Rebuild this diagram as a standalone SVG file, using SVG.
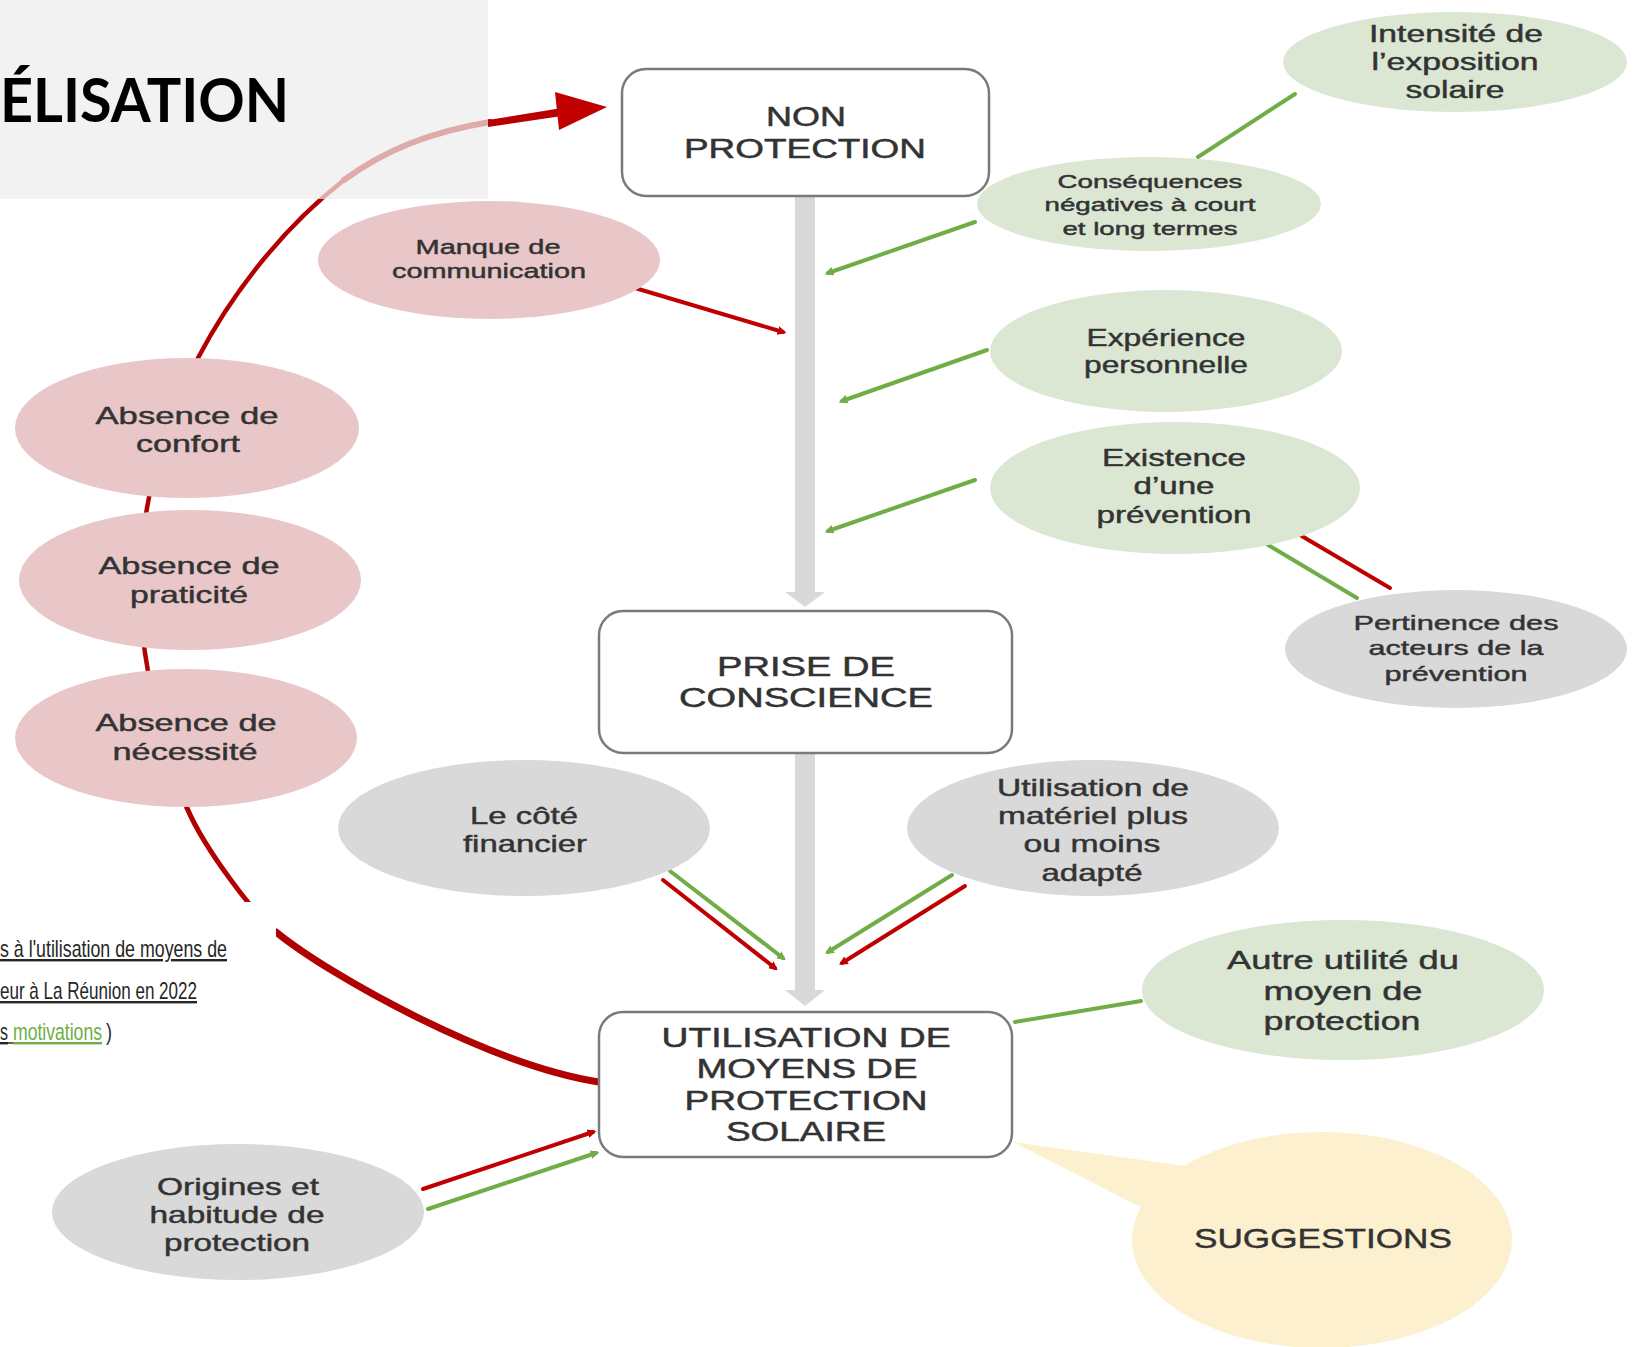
<svg xmlns="http://www.w3.org/2000/svg" width="1638" height="1347" viewBox="0 0 1638 1347">
<defs>
<style>
.t{font-family:"Liberation Sans",Arial,sans-serif;fill:#333;stroke:#333;stroke-width:0.45;text-anchor:middle}
.bt{font-family:"Liberation Sans",Arial,sans-serif;fill:#333;stroke:#333;stroke-width:0.5;text-anchor:middle;font-size:27px}
.box{fill:#fff;stroke:#7a7a7a;stroke-width:2.5}
.pk{fill:#e9c7c9}
.gn{fill:#dbe7d3}
.gy{fill:#d9d9d9}
.yl{fill:#fcf0cf}
.lg{stroke:#70ad47;stroke-width:4;stroke-linecap:round;fill:none}
.lr{stroke:#c00000;stroke-width:4;stroke-linecap:round;fill:none}
.arc{stroke:#b00000;fill:none;stroke-linecap:round}
.bar{fill:#d9d9d9}
.cap{font-family:"Liberation Sans Narrow","Liberation Sans",Arial,sans-serif;font-size:24px;fill:#262626}
</style>
<marker id="ag" viewBox="0 0 10 10" refX="6" refY="5" markerWidth="2.2" markerHeight="2.2" orient="auto"><path d="M0,0 L10,5 L0,10 z" fill="#70ad47"/></marker>
<marker id="ar" viewBox="0 0 10 10" refX="6" refY="5" markerWidth="2.2" markerHeight="2.2" orient="auto"><path d="M0,0 L10,5 L0,10 z" fill="#c00000"/></marker>
</defs>
<rect x="0" y="0" width="1638" height="1347" fill="#fff"/>
<rect x="0" y="0" width="488" height="199" fill="#f2f2f2"/>

<g id="connectors">
  <path class="arc" stroke-width="7" d="M599,1082 C490,1065 330,976 276,932"/>
  <path class="arc" stroke-width="5" d="M276,932 C255,915 205,850 187,808"/>
  <path class="arc" stroke-width="4.5" d="M187,808 C177,785 140,680 140,590 C140,510 160,430 198,358 C230,297 280,230 344,180"/>
  <path class="arc" stroke-width="6" d="M344,180 C385,150 430,132 490,122"/>
  <path d="M488,120 L562,108 L562,116 L488,127 z" fill="#b80000"/>
  <polygon points="555,92 607,107 559,130" fill="#c00000"/>
  <rect class="bar" x="795" y="196" width="20" height="397"/>
  <polygon class="bar" points="785,592 825,592 805,607"/>
  <rect class="bar" x="795" y="753" width="20" height="238"/>
  <polygon class="bar" points="785,990 825,990 805,1006"/>
  <line class="lg" x1="1295" y1="94" x2="1198" y2="157"/>
  <line class="lg" x1="975" y1="222" x2="828" y2="273" marker-end="url(#ag)"/>
  <line class="lr" x1="635" y1="288" x2="783" y2="332" marker-end="url(#ar)"/>
  <line class="lg" x1="987" y1="350" x2="842" y2="401" marker-end="url(#ag)"/>
  <line class="lg" x1="975" y1="480" x2="828" y2="531" marker-end="url(#ag)"/>
  <line class="lg" x1="1268" y1="545" x2="1357" y2="598"/>
  <line class="lr" x1="1300" y1="535" x2="1390" y2="588"/>
  <line class="lg" x1="670" y1="871" x2="783" y2="958" marker-end="url(#ag)"/>
  <line class="lr" x1="663" y1="880" x2="775" y2="968" marker-end="url(#ar)"/>
  <line class="lg" x1="952" y1="875" x2="828" y2="952" marker-end="url(#ag)"/>
  <line class="lr" x1="965" y1="886" x2="842" y2="963" marker-end="url(#ar)"/>
  <line class="lg" x1="1141" y1="1001" x2="1015" y2="1022"/>
  <line class="lr" x1="423" y1="1189" x2="593" y2="1132" marker-end="url(#ar)"/>
  <line class="lg" x1="428" y1="1209" x2="596" y2="1153" marker-end="url(#ag)"/>
</g>

<g id="title">
  <rect x="0" y="0" width="488" height="199" fill="#f2f2f2" fill-opacity="0.7"/>
  <text x="0" y="122" font-family="Lato,'Open Sans','Liberation Sans',sans-serif" font-weight="700" font-size="61" fill="#000" textLength="289" lengthAdjust="spacingAndGlyphs">ÉLISATION</text>
</g>

<g id="caption">
  <rect x="0" y="902" width="276" height="150" fill="#fff"/>
  <text class="cap" x="0" y="957" textLength="227" lengthAdjust="spacingAndGlyphs" text-decoration="underline">s à l'utilisation de moyens de</text>
  <text class="cap" x="0" y="999" textLength="197" lengthAdjust="spacingAndGlyphs" text-decoration="underline">eur à La Réunion en 2022</text>
  <text class="cap" x="0" y="1040" textLength="8" lengthAdjust="spacingAndGlyphs" text-decoration="underline">s</text>
  <line x1="8" y1="1043" x2="13" y2="1043" stroke="#262626" stroke-width="1.5"/>
  <text class="cap" x="13" y="1040" textLength="89" lengthAdjust="spacingAndGlyphs" style="fill:#70ad47" text-decoration="underline">motivations</text>
  <text class="cap" x="106" y="1040" textLength="6" lengthAdjust="spacingAndGlyphs">)</text>
</g>

<g id="n_intensite">
  <ellipse class="gn" cx="1455" cy="62" rx="172" ry="50"/>
  <text class="t" font-size="23" x="1456" y="42" textLength="174" lengthAdjust="spacingAndGlyphs">Intensité de</text>
  <text class="t" font-size="23" x="1455" y="70" textLength="167" lengthAdjust="spacingAndGlyphs">l’exposition</text>
  <text class="t" font-size="23" x="1455" y="98" textLength="99" lengthAdjust="spacingAndGlyphs">solaire</text>
</g>
<g id="n_consequences">
  <ellipse class="gn" cx="1149" cy="204" rx="172" ry="47"/>
  <text class="t" font-size="19" x="1150" y="188" textLength="185" lengthAdjust="spacingAndGlyphs">Conséquences</text>
  <text class="t" font-size="19" x="1150" y="211" textLength="211" lengthAdjust="spacingAndGlyphs">négatives à court</text>
  <text class="t" font-size="19" x="1150" y="235" textLength="175" lengthAdjust="spacingAndGlyphs">et long termes</text>
</g>
<g id="n_experience">
  <ellipse class="gn" cx="1166" cy="351" rx="176" ry="61"/>
  <text class="t" font-size="24" x="1166" y="346" textLength="159" lengthAdjust="spacingAndGlyphs">Expérience</text>
  <text class="t" font-size="24" x="1166" y="373" textLength="164" lengthAdjust="spacingAndGlyphs">personnelle</text>
</g>
<g id="n_existence">
  <ellipse class="gn" cx="1175" cy="488" rx="185" ry="66"/>
  <text class="t" font-size="24" x="1174" y="466" textLength="144" lengthAdjust="spacingAndGlyphs">Existence</text>
  <text class="t" font-size="24" x="1174" y="494" textLength="81" lengthAdjust="spacingAndGlyphs">d’une</text>
  <text class="t" font-size="24" x="1174" y="523" textLength="155" lengthAdjust="spacingAndGlyphs">prévention</text>
</g>
<g id="n_pertinence">
  <ellipse class="gy" cx="1456" cy="649" rx="171" ry="59"/>
  <text class="t" font-size="21" x="1456" y="630" textLength="205" lengthAdjust="spacingAndGlyphs">Pertinence des</text>
  <text class="t" font-size="21" x="1456" y="655" textLength="175" lengthAdjust="spacingAndGlyphs">acteurs de la</text>
  <text class="t" font-size="21" x="1456" y="681" textLength="143" lengthAdjust="spacingAndGlyphs">prévention</text>
</g>
<g id="n_manque">
  <ellipse class="pk" cx="489" cy="260" rx="171" ry="59"/>
  <text class="t" font-size="20" x="488" y="254" textLength="145" lengthAdjust="spacingAndGlyphs">Manque de</text>
  <text class="t" font-size="20" x="489" y="278" textLength="194" lengthAdjust="spacingAndGlyphs">communication</text>
</g>
<g id="n_confort">
  <ellipse class="pk" cx="187" cy="428" rx="172" ry="70"/>
  <text class="t" font-size="24" x="187" y="424" textLength="183" lengthAdjust="spacingAndGlyphs">Absence de</text>
  <text class="t" font-size="24" x="188" y="452" textLength="104" lengthAdjust="spacingAndGlyphs">confort</text>
</g>
<g id="n_praticite">
  <ellipse class="pk" cx="190" cy="580" rx="171" ry="70"/>
  <text class="t" font-size="24" x="189" y="574" textLength="181" lengthAdjust="spacingAndGlyphs">Absence de</text>
  <text class="t" font-size="24" x="189" y="603" textLength="118" lengthAdjust="spacingAndGlyphs">praticité</text>
</g>
<g id="n_necessite">
  <ellipse class="pk" cx="186" cy="738" rx="171" ry="69"/>
  <text class="t" font-size="24" x="186" y="731" textLength="181" lengthAdjust="spacingAndGlyphs">Absence de</text>
  <text class="t" font-size="24" x="185" y="760" textLength="145" lengthAdjust="spacingAndGlyphs">nécessité</text>
</g>
<g id="n_financier">
  <ellipse class="gy" cx="524" cy="828" rx="186" ry="68"/>
  <text class="t" font-size="24" x="524" y="824" textLength="108" lengthAdjust="spacingAndGlyphs">Le côté</text>
  <text class="t" font-size="24" x="525" y="852" textLength="124" lengthAdjust="spacingAndGlyphs">financier</text>
</g>
<g id="n_materiel">
  <ellipse class="gy" cx="1093" cy="828" rx="186" ry="68"/>
  <text class="t" font-size="24" x="1093" y="796" textLength="192" lengthAdjust="spacingAndGlyphs">Utilisation de</text>
  <text class="t" font-size="24" x="1093" y="824" textLength="190" lengthAdjust="spacingAndGlyphs">matériel plus</text>
  <text class="t" font-size="24" x="1092" y="852" textLength="137" lengthAdjust="spacingAndGlyphs">ou moins</text>
  <text class="t" font-size="24" x="1092" y="881" textLength="101" lengthAdjust="spacingAndGlyphs">adapté</text>
</g>
<g id="n_autre">
  <ellipse class="gn" cx="1343" cy="990" rx="201" ry="70"/>
  <text class="t" font-size="26" x="1343" y="969" textLength="232" lengthAdjust="spacingAndGlyphs">Autre utilité du</text>
  <text class="t" font-size="26" x="1343" y="1000" textLength="159" lengthAdjust="spacingAndGlyphs">moyen de</text>
  <text class="t" font-size="26" x="1342" y="1030" textLength="157" lengthAdjust="spacingAndGlyphs">protection</text>
</g>
<g id="n_origines">
  <ellipse class="gy" cx="238" cy="1212" rx="186" ry="68"/>
  <text class="t" font-size="24" x="238" y="1195" textLength="162" lengthAdjust="spacingAndGlyphs">Origines et</text>
  <text class="t" font-size="24" x="237" y="1223" textLength="175" lengthAdjust="spacingAndGlyphs">habitude de</text>
  <text class="t" font-size="24" x="237" y="1251" textLength="146" lengthAdjust="spacingAndGlyphs">protection</text>
</g>
<g id="n_suggestions">
  <polygon class="yl" points="1013,1142 1200,1168 1162,1218"/>
  <ellipse class="yl" cx="1322" cy="1240" rx="190" ry="108"/>
  <text class="t" font-size="28" x="1323" y="1248" textLength="258" lengthAdjust="spacingAndGlyphs">SUGGESTIONS</text>
</g>
<g id="b_non">
  <rect class="box" x="622" y="69" width="367" height="127" rx="24"/>
  <text class="bt" x="806" y="126" textLength="80" lengthAdjust="spacingAndGlyphs">NON</text>
  <text class="bt" x="805" y="158" textLength="242" lengthAdjust="spacingAndGlyphs">PROTECTION</text>
</g>
<g id="b_prise">
  <rect class="box" x="599" y="611" width="413" height="142" rx="24"/>
  <text class="bt" x="806" y="676" textLength="178" lengthAdjust="spacingAndGlyphs">PRISE DE</text>
  <text class="bt" x="806" y="707" textLength="254" lengthAdjust="spacingAndGlyphs">CONSCIENCE</text>
</g>
<g id="b_utilisation">
  <rect class="box" x="599" y="1012" width="413" height="145" rx="24"/>
  <text class="bt" x="806" y="1047" textLength="289" lengthAdjust="spacingAndGlyphs">UTILISATION DE</text>
  <text class="bt" x="807" y="1078" textLength="221" lengthAdjust="spacingAndGlyphs">MOYENS DE</text>
  <text class="bt" x="806" y="1110" textLength="243" lengthAdjust="spacingAndGlyphs">PROTECTION</text>
  <text class="bt" x="806" y="1141" textLength="160" lengthAdjust="spacingAndGlyphs">SOLAIRE</text>
</g>
</svg>
